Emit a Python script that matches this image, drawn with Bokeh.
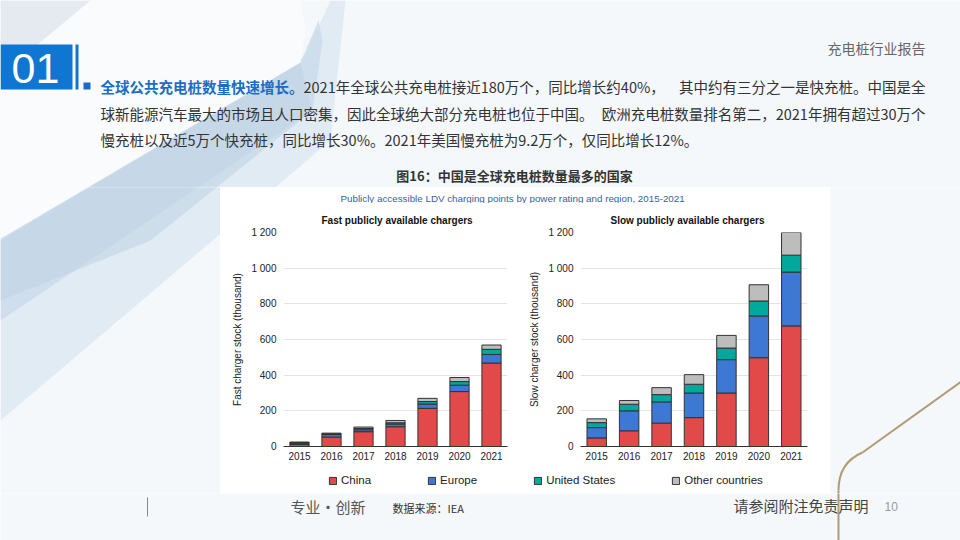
from bokeh.plotting import figure
from bokeh.layouts import column, row
from bokeh.models import (Range1d, FactorRange, FixedTicker, CustomJSTickFormatter,
                          Legend, LegendItem, ColumnDataSource)
from bokeh.core.properties import value
from bokeh.embed import file_html
from bokeh.resources import INLINE

# ---------------- data ----------------
years = ["2015", "2016", "2017", "2018", "2019", "2020", "2021"]
series = ["China", "Europe", "United States", "Other countries"]

fast_china = [11, 53, 83, 111, 214, 308, 468]
fast_europe = [8, 14, 11, 15, 24, 36, 48]
fast_us = [3, 4, 7, 7, 14, 20, 29]
fast_other = [3, 4, 8, 13, 18, 23, 24]

slow_china = [48, 88, 131, 162, 300, 498, 676]
slow_europe = [58, 112, 119, 138, 187, 234, 302]
slow_us = [28, 37, 41, 49, 65, 84, 95]
slow_other = [21, 21, 39, 54, 71, 91, 131]

y_ticks = [0, 200, 400, 600, 800, 1000, 1200]
colors = ["#e24a4a", "#3d78d4", "#00a99c", "#bdbdbd"]

CJK = "Noto Sans CJK SC"
SANS = "Liberation Sans"
BG = "#f5f8fa"


def draw_bg(p):
    # decorative background in page coordinates
    p.patch(x=[0, 92, 0], y=[0, 0, 75], fill_color="#e4eaf0", line_color=None)
    p.patch(x=[305, 330, 345, 330, 0, 0], y=[55, 0, 0, 140, 420, 240],
            fill_color="#dce7f1", fill_alpha=0.8, line_color=None)
    p.patch(x=[300, 318, 322, 312, 0, 0], y=[62, 20, 40, 110, 320, 238],
            fill_color="#cadbea", fill_alpha=0.8, line_color=None)
    p.patch(x=[300, 312, 150, 0, 0], y=[62, 110, 240, 300, 240],
            fill_color="#bfd3e5", fill_alpha=0.6, line_color=None)
    p.patch(x=[90, 300, 305, 300, 0, 0], y=[0, 0, 30, 62, 238, 75],
            fill_color="#fafbfd", line_color=None)
    # gold curve
    p.segment(x0=[838], y0=[541], x1=[838], y1=[490], line_color="#b39a76", line_width=2)
    p.quadratic(x0=[838], y0=[490], x1=[862], y1=[452], cx=[838], cy=[462],
                line_color="#b39a76", line_width=2)
    p.segment(x0=[862], y0=[452], x1=[965], y1=[378], line_color="#b39a76", line_width=2)


def page_fig(w, h, x0, x1, y0, y1, bg=BG, deco=True):
    p = figure(width=w, height=h, x_range=Range1d(x0, x1), y_range=Range1d(y1, y0),
               output_backend="svg", toolbar_location=None, x_axis_location=None,
               y_axis_location=None, min_border=0, title=None)
    p.xgrid.visible = False
    p.ygrid.visible = False
    p.outline_line_color = None
    p.background_fill_color = bg
    p.border_fill_color = bg
    if deco:
        draw_bg(p)
    return p


def txt(p, x, y, s, size, color, font=CJK, align="left", style="normal", baseline="middle"):
    p.text(x=[x], y=[y], text=[s], text_font=value(font), text_font_size=size,
           text_color=color, text_align=align, text_baseline=baseline,
           text_font_style=style)


# ---------------- header ----------------
FS = "14.5px"
header = page_fig(960, 187, 0, 960, 0, 187)
header.quad(left=[0], right=[72], top=[44], bottom=[89], fill_color="#0f76d2", line_color=None)
header.quad(left=[75], right=[78], top=[44], bottom=[89], fill_color="#0f76d2", line_color=None)
txt(header, 35, 68, "01", "43px", "#ffffff", font=SANS, align="center")
txt(header, 925, 47, "充电桩行业报告", "14px", "#666666", align="right")
header.quad(left=[83], right=[90], top=[82], bottom=[89], fill_color="#1a6cc6", line_color=None)
txt(header, 100, 86, "全球公共充电桩数量快速增长。", FS, "#1a6cc6", style="bold")
txt(header, 303, 86, "2021年全球公共充电桩接近180万个，同比增长约40%，", FS, "#333333")
txt(header, 925, 86, "其中约有三分之一是快充桩。中国是全", FS, "#333333", align="right")
txt(header, 100, 113, "球新能源汽车最大的市场且人口密集，因此全球绝大部分充电桩也位于中国。", FS, "#333333")
txt(header, 925, 113, "欧洲充电桩数量排名第二，2021年拥有超过30万个", FS, "#333333", align="right")
txt(header, 100, 139, "慢充桩以及近5万个快充桩，同比增长30%。2021年美国慢充桩为9.2万个，仅同比增长12%。",
    FS, "#333333")
txt(header, 514, 175, "图16：中国是全球充电桩数量最多的国家", "13px", "#333333", align="center", style="bold")

# ---------------- side spacers ----------------
left_sp = page_fig(220, 306, 0, 220, 187, 493)
right_sp = page_fig(130, 306, 830, 960, 187, 493)

# ---------------- subtitle ----------------
sub = page_fig(610, 16, 220, 830, 187, 203, bg="#ffffff", deco=False)
txt(sub, 340, 198, "Publicly accessible LDV charging points by power rating and region, 2015-2021",
    "9.8px", "#3a619c", font=SANS)


# ---------------- charts ----------------
def chart(title, ylabel, c, e, u, o, left, right, toff):
    src = ColumnDataSource(dict(year=years, China=c, Europe=e, US=u, Other=o))
    p = figure(width=305, height=268, x_range=FactorRange(factors=years, range_padding=0),
               y_range=Range1d(0, 1200), output_backend="svg", toolbar_location=None,
               min_border_left=left, min_border_right=right, min_border_top=29,
               min_border_bottom=25, title=title)
    p.vbar_stack(["China", "Europe", "US", "Other"], x="year", width=0.6, source=src,
                 fill_color=colors, line_color="#333333", line_width=1)
    p.background_fill_color = "#ffffff"
    p.border_fill_color = "#ffffff"
    p.outline_line_color = None
    p.xgrid.visible = False
    p.ygrid.grid_line_color = "#e4e4e4"
    p.yaxis.ticker = FixedTicker(ticks=y_ticks)
    p.yaxis.formatter = CustomJSTickFormatter(code="""
        if (tick >= 1000) { return Math.floor(tick/1000) + ' ' + String(tick % 1000).padStart(3, '0'); }
        return String(tick);""")
    p.axis.major_tick_out = 0
    p.axis.major_tick_in = 0
    p.axis.minor_tick_out = 0
    p.axis.minor_tick_in = 0
    p.yaxis.axis_line_color = None
    p.yaxis.major_tick_line_color = None
    p.yaxis.minor_tick_line_color = None
    p.yaxis.major_label_standoff = 7
    p.yaxis.axis_label = ylabel
    p.yaxis.axis_label_standoff = 5
    p.yaxis.axis_label_text_font_style = "normal"
    p.yaxis.axis_label_text_font_size = "10px"
    p.yaxis.axis_label_text_font = SANS
    p.yaxis.axis_label_text_color = "#222222"
    p.axis.major_label_text_font = SANS
    p.axis.major_label_text_font_size = "10px"
    p.axis.major_label_text_color = "#222222"
    p.xaxis.axis_line_color = "#333333"
    p.xaxis.major_tick_line_color = None
    p.xaxis.minor_tick_line_color = None
    p.xaxis.major_label_standoff = 5
    p.title.align = "left"
    p.title.text_font = SANS
    p.title.text_font_size = "10px"
    p.title.text_font_style = "bold"
    p.title.text_color = "#111111"
    p.title.offset = toff
    p.title.standoff = 14
    return p


fast = chart("Fast  publicly available chargers", "Fast charger stock (thousand)",
             fast_china, fast_europe, fast_us, fast_other, 63, 18, 38)
slow = chart("Slow publicly available chargers", "Slow charger stock (thousand)",
             slow_china, slow_europe, slow_us, slow_other, 55, 23, 30)

# ---------------- legend ----------------
leg = page_fig(610, 22, 0, 1, 0, 1, bg="#ffffff", deco=False)
items = []
for name, col in zip(series, colors):
    r = leg.vbar(x=[10], top=[1], bottom=[0], width=0.5, fill_color=col, line_color="#333333")
    items.append(LegendItem(label=name, renderers=[r]))
legend = Legend(items=items, orientation="horizontal", location=(108, 7), glyph_width=9,
                glyph_height=9, label_standoff=4, spacing=56, padding=0, margin=0,
                label_height=12, border_line_color=None, background_fill_alpha=0,
                label_text_font=SANS, label_text_font_size="11.5px", label_text_color="#222222")
leg.add_layout(legend)

# ---------------- footer ----------------
footer = page_fig(960, 47, 0, 960, 493, 540)
footer.segment(x0=[147], y0=[497], x1=[147], y1=[516], line_color="#888888", line_width=1)
txt(footer, 290, 506, "专业·创新", "15px", "#555555")
txt(footer, 392, 507, "数据来源：IEA", "11px", "#333333")
txt(footer, 733, 505, "请参阅附注免责声明", "15px", "#444444")
txt(footer, 884, 506, "10", "12px", "#9a9a9a", font=SANS)

middle = column(sub, row(fast, slow, spacing=0), leg, spacing=0)
layout = column(header, row(left_sp, middle, right_sp, spacing=0), footer, spacing=0)

open("out.html", "w").write(file_html(layout, INLINE))
